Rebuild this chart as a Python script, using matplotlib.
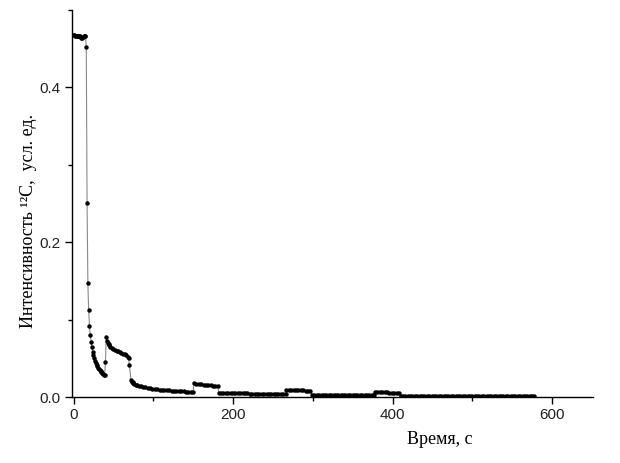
import matplotlib
matplotlib.use('Agg')
import matplotlib.pyplot as plt
from matplotlib.ticker import MultipleLocator

# Time (s) and 12C intensity, segment by segment
t_start = [0, 1, 2, 3, 4, 5, 6, 7, 8, 9, 10, 11, 12, 13, 14, 15]
y_start = [0.468, 0.468, 0.467, 0.467, 0.467, 0.467, 0.467, 0.466, 0.466, 0.465,
           0.464, 0.464, 0.465, 0.466, 0.466, 0.466]

t_drop = [16, 17, 18, 19, 20, 21, 22, 23, 24, 25, 26, 27, 28, 29, 30, 31, 32,
          33, 34, 35, 36, 37, 38, 39]
y_drop = [0.452, 0.250, 0.147, 0.112, 0.092, 0.080, 0.071, 0.065, 0.058, 0.054,
          0.050, 0.047, 0.044, 0.042, 0.040, 0.038, 0.036, 0.035, 0.033, 0.032,
          0.031, 0.030, 0.029, 0.028]

t_step1 = [40, 41, 42, 43, 44, 45, 46, 48, 50, 52, 54, 56, 58, 60, 62, 64, 66, 68, 69]
y_step1 = [0.045, 0.077, 0.073, 0.070, 0.068, 0.067, 0.065, 0.063, 0.062, 0.061,
           0.060, 0.059, 0.0585, 0.057, 0.056, 0.055, 0.054, 0.052, 0.051]

t_tail1 = [70, 72, 73, 74, 75, 76, 78, 80, 82, 84, 87, 90, 93, 96, 99, 102, 105,
           108, 111, 114, 117, 120, 123, 126, 129, 132, 135, 138, 141, 144, 147, 150]
y_tail1 = [0.042, 0.022, 0.020, 0.019, 0.018, 0.0172, 0.016, 0.015, 0.0143, 0.0137,
           0.013, 0.0124, 0.0118, 0.0113, 0.0109, 0.0105, 0.0101, 0.0097, 0.0094,
           0.0091, 0.0088, 0.0085, 0.0082, 0.008, 0.0078, 0.0076, 0.0074, 0.0072,
           0.007, 0.0068, 0.0066, 0.0064]

t_step2 = [151, 154, 157, 160, 163, 166, 169, 172, 175, 178, 181]
y_step2 = [0.0177, 0.0172, 0.0167, 0.0163, 0.0159, 0.0156, 0.0152, 0.0149, 0.0146,
           0.0143, 0.0140]

t_tail2 = [182, 185, 188, 191, 194, 197, 200, 203, 206, 209, 212, 215, 218, 221,
           224, 227, 230, 233, 236, 239, 242, 245, 248, 251, 254, 257, 260, 263, 266]
y_tail2 = [0.0058, 0.0056, 0.0055, 0.0054, 0.0053, 0.0052, 0.0051, 0.0050, 0.0049,
           0.0048, 0.0047, 0.0046, 0.0046, 0.0045, 0.0044, 0.0043, 0.0042, 0.0042,
           0.0041, 0.0040, 0.0039, 0.0039, 0.0038, 0.0037, 0.0036, 0.0036, 0.0035,
           0.0034, 0.0033]

t_step3 = [267, 270, 273, 276, 279, 282, 285, 288, 291, 294, 297]
y_step3 = [0.0094, 0.0092, 0.0091, 0.0090, 0.0088, 0.0087, 0.0086, 0.0085, 0.0083,
           0.0082, 0.0080]

t_tail3 = [299, 302, 305, 308, 311, 314, 317, 320, 323, 326, 329, 332, 335, 338,
           341, 344, 347, 350, 353, 356, 359, 362, 365, 368, 371, 374, 377]
y_tail3 = [0.0030, 0.0029, 0.0029, 0.0028, 0.0028, 0.0027, 0.0027, 0.0026, 0.0026,
           0.0025, 0.0025, 0.0025, 0.0024, 0.0024, 0.0023, 0.0023, 0.0023, 0.0022,
           0.0022, 0.0022, 0.0021, 0.0021, 0.0021, 0.0020, 0.0020, 0.0020, 0.0020]

t_step4 = [378, 381, 384, 387, 390, 393, 396, 399, 402, 405, 408]
y_step4 = [0.0064, 0.0063, 0.0062, 0.0061, 0.0060, 0.0059, 0.0058, 0.0058, 0.0057,
           0.0056, 0.0055]

t_tail4 = [410, 413, 416, 419, 422, 425, 428, 431, 434, 437, 440, 443, 446, 449,
           452, 455, 458, 461, 464, 467, 470, 473, 476, 479, 482, 485, 488, 491,
           494, 497, 500, 503, 506, 509, 512, 515, 518, 521, 524, 527, 530, 533,
           536, 539, 542, 545, 548, 551, 554, 557, 560, 563, 566, 569, 572, 575, 577]
y_tail4 = [0.0019, 0.0019, 0.0018, 0.0018, 0.0018, 0.0017, 0.0017, 0.0017, 0.0016,
           0.0016, 0.0016, 0.0016, 0.0015, 0.0015, 0.0015, 0.0015, 0.0014, 0.0014,
           0.0014, 0.0014, 0.0013, 0.0013, 0.0013, 0.0013, 0.0013, 0.0012, 0.0012,
           0.0012, 0.0012, 0.0012, 0.0011, 0.0011, 0.0011, 0.0011, 0.0011, 0.0011,
           0.0010, 0.0010, 0.0010, 0.0010, 0.0010, 0.0010, 0.0010, 0.0009, 0.0009,
           0.0009, 0.0009, 0.0009, 0.0009, 0.0009, 0.0009, 0.0008, 0.0008, 0.0008,
           0.0008, 0.0008, 0.0008]

time = (t_start + t_drop + t_step1 + t_tail1 + t_step2 + t_tail2 + t_step3
        + t_tail3 + t_step4 + t_tail4)
intensity = (y_start + y_drop + y_step1 + y_tail1 + y_step2 + y_tail2 + y_step3
             + y_tail3 + y_step4 + y_tail4)

fig = plt.figure(figsize=(6.2, 4.63), dpi=100)
ax = fig.add_axes([0.116, 0.1425, 0.84, 0.836])

ax.plot(time, intensity, color='#8a8a8a', lw=0.8, zorder=1)
ax.plot(time, intensity, 'o', color='black', ms=3.2, mew=0, zorder=2)

ax.set_xlim(-2, 651)
ax.set_ylim(0, 0.5)
ax.xaxis.set_major_locator(MultipleLocator(200))
ax.xaxis.set_minor_locator(MultipleLocator(100))
ax.yaxis.set_major_locator(MultipleLocator(0.2))
ax.yaxis.set_minor_locator(MultipleLocator(0.1))
ax.yaxis.set_major_formatter(plt.FuncFormatter(lambda v, p: f'{v:.1f}'))

for s in ['top', 'right']:
    ax.spines[s].set_visible(False)
for s in ['left', 'bottom']:
    ax.spines[s].set_linewidth(1.0)

ax.tick_params(which='major', direction='out', length=5, width=1,
               labelsize=11, pad=3, labelcolor='#222222')
ax.tick_params(which='minor', direction='out', length=3, width=1)
for lbl in ax.get_xticklabels() + ax.get_yticklabels():
    lbl.set_fontfamily('Liberation Sans')

ax.set_xlabel('Время, с', fontfamily='Liberation Serif', fontsize=13)
ax.xaxis.set_label_coords(0.706, -0.088)
ax.set_ylabel('Интенсивность ¹²C,  усл. ед.', fontfamily='Liberation Serif',
              fontsize=13)
ax.yaxis.set_label_coords(-0.068, 0.455)

fig.savefig('out.png', dpi=100)
